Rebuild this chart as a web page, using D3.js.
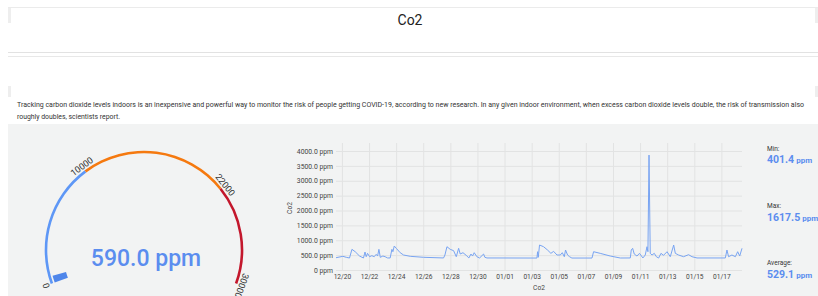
<!DOCTYPE html>
<html>
<head>
<meta charset="utf-8">
<script src="https://cdn.jsdelivr.net/npm/d3@7"></script>
<style>
  body { margin: 0; background: #fff; font-family: Roboto, "Noto Sans", sans-serif; }
  svg { display: block; }
</style>
</head>
<body>
<div id="chart"></div>
<script>
// ---- data ----
const pageTitle = "Co2";
const blurbLines = [
  "Tracking carbon dioxide levels indoors is an inexpensive and powerful way to monitor the risk of people getting COVID-19, according to new research. In any given indoor environment, when excess carbon dioxide levels double, the risk of transmission also",
  "roughly doubles, scientists report."
];

// gauge
const gaugeTicks = [0, 10000, 22000, 30000];
const gaugeTickLabels = ["0", "10000", "22000", "30000"];
const bandStarts = [0, 10000, 22000];
const bandEnds = [10000, 22000, 30000];
const currentValue = 590.0;

// time series (ppm)
const times = [
  "2020-12-19 13:30", "2020-12-20 01:40", "2020-12-20 07:40", "2020-12-20 13:25", "2020-12-20 17:45",
  "2020-12-20 23:30", "2020-12-21 07:10", "2020-12-21 14:10", "2020-12-21 16:50", "2020-12-21 19:00",
  "2020-12-21 21:20", "2020-12-22 01:00", "2020-12-22 05:00", "2020-12-22 09:10", "2020-12-22 12:40",
  "2020-12-22 15:10", "2020-12-22 17:30", "2020-12-22 19:55", "2020-12-23 00:30", "2020-12-23 04:30",
  "2020-12-23 08:50", "2020-12-23 13:25", "2020-12-23 16:30", "2020-12-23 18:15", "2020-12-23 20:40",
  "2020-12-24 00:15", "2020-12-24 07:10", "2020-12-24 13:10", "2020-12-25 01:00", "2020-12-26 00:30",
  "2020-12-27 12:00", "2020-12-27 14:25", "2020-12-27 18:00", "2020-12-27 23:45", "2020-12-28 05:45",
  "2020-12-28 10:30", "2020-12-28 14:40", "2020-12-28 17:30", "2020-12-28 22:20", "2020-12-29 04:05",
  "2020-12-29 08:50", "2020-12-29 12:30", "2020-12-29 15:20", "2020-12-29 18:15", "2020-12-29 23:00",
  "2020-12-30 03:50", "2020-12-30 10:50", "2020-12-30 13:10", "2020-12-30 16:50", "2021-01-03 09:20",
  "2021-01-03 10:30", "2021-01-03 11:45", "2021-01-03 13:55", "2021-01-03 21:05", "2021-01-04 04:05",
  "2021-01-04 10:05", "2021-01-04 14:50", "2021-01-04 20:50", "2021-01-05 02:40", "2021-01-05 06:15",
  "2021-01-05 09:50", "2021-01-05 12:00", "2021-01-05 15:35", "2021-01-05 19:10", "2021-01-05 23:15",
  "2021-01-07 10:50", "2021-01-07 13:40", "2021-01-08 01:25", "2021-01-08 19:10", "2021-01-09 13:00",
  "2021-01-10 06:40", "2021-01-10 08:25", "2021-01-10 10:50", "2021-01-10 13:40", "2021-01-10 18:30",
  "2021-01-10 23:00", "2021-01-11 05:00", "2021-01-11 09:10", "2021-01-11 12:15", "2021-01-11 13:55",
  "2021-01-11 15:50", "2021-01-11 18:00", "2021-01-11 21:10", "2021-01-12 01:10", "2021-01-12 04:50",
  "2021-01-12 08:50", "2021-01-12 13:00", "2021-01-12 17:30", "2021-01-12 23:45", "2021-01-13 05:30",
  "2021-01-13 11:30", "2021-01-13 14:25", "2021-01-13 20:10", "2021-01-14 05:00", "2021-01-14 13:55",
  "2021-01-14 19:55", "2021-01-15 04:50", "2021-01-17 07:00", "2021-01-17 09:50", "2021-01-17 12:45",
  "2021-01-17 18:40", "2021-01-18 00:45", "2021-01-18 04:50", "2021-01-18 08:25", "2021-01-18 12:30"
];
const co2 = [
  413, 460, 427, 403, 695,
  615, 470, 403, 605, 447,
  560, 447, 482, 447, 527,
  470, 695, 426, 470, 447,
  405, 405, 695, 615, 806,
  729, 582, 504, 460, 427,
  405, 504, 783, 695, 650,
  447, 729, 537, 582, 493,
  405, 537, 470, 582, 447,
  405, 537, 427, 405, 402,
  615, 427, 840, 783, 672,
  560, 627, 504, 504, 582,
  447, 672, 504, 447, 402,
  402, 615, 560, 470, 403,
  405, 672, 729, 537, 470,
  560, 405, 504, 783, 615,
  3864, 560, 504, 560, 447,
  402, 560, 493, 615, 447,
  840, 560, 504, 447, 515,
  447, 405, 405, 672, 447,
  504, 447, 615, 470, 729
];
const yTicks = [0, 500, 1000, 1500, 2000, 2500, 3000, 3500, 4000];
const yTickLabels = ["0 ppm", "500.0 ppm", "1000.0 ppm", "1500.0 ppm", "2000.0 ppm", "2500.0 ppm", "3000.0 ppm", "3500.0 ppm", "4000.0 ppm"];
const xTickDays = ["2020-12-20", "2020-12-22", "2020-12-24", "2020-12-26", "2020-12-28", "2020-12-30",
  "2021-01-01", "2021-01-03", "2021-01-05", "2021-01-07", "2021-01-09", "2021-01-11",
  "2021-01-13", "2021-01-15", "2021-01-17"];
const yMax = 4270;
const axisTitle = "Co2";

// side stats
const statLabels = ["Min:", "Max:", "Average:"];
const statValues = [401.4, 1617.5, 529.1];

// ---- styles ----
const blue = "#5b8def";
const bandColors = ["#5e97f6", "#f5790f", "#c3172c"];
const panelGray = "#f2f3f3";

const W = 818, H = 296;
const svg = d3.select("#chart").append("svg")
  .attr("width", W).attr("height", H);

// page frame
svg.append("rect").attr("x", 8).attr("y", 124).attr("width", W - 8).attr("height", H - 124).attr("fill", panelGray);
svg.append("line").attr("x1", 8).attr("x2", W).attr("y1", 7.5).attr("y2", 7.5).attr("stroke", "#ebebeb");
svg.append("line").attr("x1", 8).attr("x2", W).attr("y1", 52.5).attr("y2", 52.5).attr("stroke", "#e2e2e2");
svg.append("line").attr("x1", 8).attr("x2", W).attr("y1", 56.5).attr("y2", 56.5).attr("stroke", "#e8e8e8");
[[8, 8, 15], [815, 8, 15], [8, 86, 11], [815, 86, 11]].forEach(function(s) {
  svg.append("rect").attr("x", s[0]).attr("y", s[1]).attr("width", 3).attr("height", s[2]).attr("fill", "#eeeeee");
});

svg.append("text").attr("x", 410).attr("y", 25)
  .attr("text-anchor", "middle").attr("font-size", 14).attr("fill", "#222")
  .text(pageTitle);

// paragraph: squeeze the long line to the width seen in the picture
const blurbWidths = [787, 103];
svg.selectAll(".blurb").data(blurbLines).enter().append("text")
  .attr("class", "blurb")
  .attr("x", 17).attr("y", function(d, i) { return 107; })
  .attr("dy", function(d, i) { return i * 11.5; })
  .attr("font-size", 6.9).attr("fill", "#333")
  .attr("textLength", function(d, i) { return blurbWidths[i]; })
  .attr("lengthAdjust", "spacingAndGlyphs")
  .text(function(d) { return d; });

// ---- gauge ----
const gcx = 144, gcy = 250, gr = 98;
const deg = Math.PI / 180;
const gScale = d3.scaleLinear().domain([0, 30000]).range([-110 * deg, 110 * deg]);
const gauge = svg.append("g").attr("transform", "translate(" + gcx + "," + gcy + ")");
const bandArc = d3.arc().innerRadius(gr - 1.3).outerRadius(gr + 1.3);

gauge.selectAll(".band").data(bandStarts).enter().append("path")
  .attr("class", "band")
  .attr("fill", function(d, i) { return bandColors[i]; })
  .attr("d", function(d, i) { return bandArc({ startAngle: gScale(d), endAngle: gScale(bandEnds[i]) }); });

gauge.append("path")
  .attr("fill", "#4f86ea")
  .attr("d", d3.arc().innerRadius(81).outerRadius(95)({ startAngle: gScale(0), endAngle: gScale(currentValue) }));

gauge.selectAll(".gtick").data(gaugeTicks).enter().append("text")
  .attr("class", "gtick")
  .attr("transform", function(d) { return "rotate(" + gScale(d) / deg + ") translate(0," + (-(gr + 3)) + ")"; })
  .attr("text-anchor", "middle").attr("font-size", 9).attr("fill", "#333")
  .text(function(d, i) { return gaugeTickLabels[i]; });

svg.append("text").attr("x", gcx + 2).attr("y", 266)
  .attr("text-anchor", "middle").attr("font-size", 23).attr("font-weight", 500)
  .attr("fill", blue)
  .text(currentValue.toFixed(1) + " ppm");

// ---- line chart ----
const parseT = d3.timeParse("%Y-%m-%d %H:%M");
const parseD = d3.timeParse("%Y-%m-%d");
const series = times.map(function(t, i) { return { t: parseT(t), v: co2[i] }; });

const plotLeft = 336, plotRight = 742, plotTop = 143, plotBottom = 270;
const x = d3.scaleTime().domain(d3.extent(series, function(d) { return d.t; })).range([plotLeft, plotRight]);
const y = d3.scaleLinear().domain([0, yMax]).range([plotBottom, plotTop]);

const chart = svg.append("g");
chart.append("g")
  .attr("transform", "translate(" + plotLeft + ",0)")
  .call(d3.axisLeft(y).tickValues(yTicks).tickSize(-(plotRight - plotLeft)).tickPadding(3)
    .tickFormat(function(d, i) { return yTickLabels[i]; }))
  .call(function(g) {
    g.select(".domain").remove();
    g.selectAll(".tick line").attr("stroke", "#e2e3e3");
    g.selectAll(".tick text").attr("font-size", 6.8).attr("fill", "#444").attr("font-family", "Roboto");
  });

chart.append("g")
  .attr("transform", "translate(0," + plotBottom + ")")
  .call(d3.axisBottom(x).tickValues(xTickDays.map(parseD)).tickSize(-(plotBottom - plotTop)).tickPadding(4)
    .tickFormat(d3.timeFormat("%m/%d")))
  .call(function(g) {
    g.select(".domain").remove();
    g.selectAll(".tick line").attr("stroke", "#e2e3e3");
    g.selectAll(".tick text").attr("font-size", 6.6).attr("fill", "#444").attr("font-family", "Roboto");
  });

chart.append("path")
  .datum(series)
  .attr("fill", "none")
  .attr("stroke", "#78a4f2")
  .attr("stroke-width", 1)
  .attr("d", d3.line().x(function(d) { return x(d.t); }).y(function(d) { return y(d.v); }));

chart.append("text")
  .attr("transform", "translate(292,208) rotate(-90)")
  .attr("text-anchor", "middle").attr("font-size", 6.6).attr("fill", "#444")
  .text(axisTitle);
chart.append("text")
  .attr("x", (plotLeft + plotRight) / 2).attr("y", 289.5)
  .attr("text-anchor", "middle").attr("font-size", 6.6).attr("fill", "#444")
  .text(axisTitle);

// ---- stats ----
const statY = [150.7, 208, 265];
const stats = svg.selectAll(".stat").data(statLabels).enter().append("g").attr("class", "stat");
stats.append("text")
  .attr("x", 767).attr("y", function(d, i) { return statY[i]; })
  .attr("font-size", 6.5).attr("fill", "#333")
  .text(function(d) { return d; });
const vals = stats.append("text")
  .attr("x", 767).attr("y", function(d, i) { return statY[i] + 12.6; })
  .attr("fill", blue).attr("font-weight", 700);
vals.append("tspan").attr("font-size", 10.5).text(function(d, i) { return statValues[i].toFixed(1); });
vals.append("tspan").attr("font-size", 8).text(" ppm");
</script>
</body>
</html>
